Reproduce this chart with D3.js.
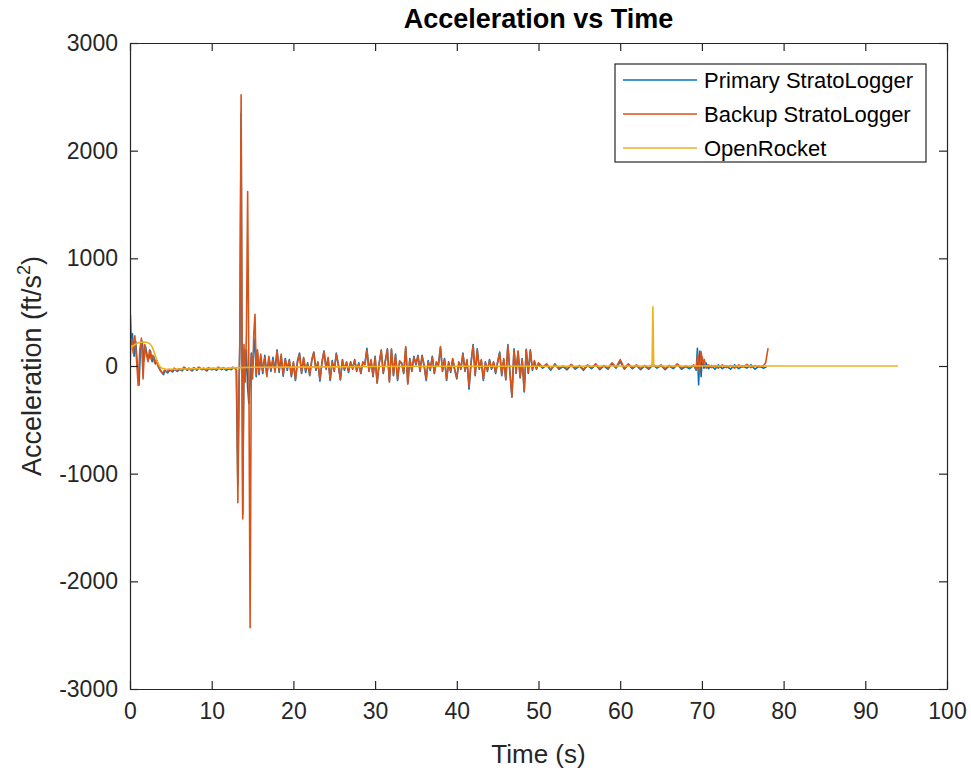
<!DOCTYPE html>
<html>
<head>
<meta charset="utf-8">
<script src="https://cdn.jsdelivr.net/npm/d3@7"></script>
<style>
  html, body { margin: 0; padding: 0; background: #fff; }
  svg { display: block; font-family: "Liberation Sans", Arial, Helvetica, sans-serif; }
</style>
</head>
<body>
<svg id="chart" width="971" height="770"></svg>
<script>
// Flight acceleration traces: [time (s), acceleration (ft/s^2)]
const primaryStratoLogger = [
  [0,300],[0.05,470],[0.15,200],[0.3,300],[0.5,90],[0.7,230],[0.9,10],[1.1,-175],[1.3,180],[1.5,230],[1.7,50],
  [1.9,180],[2.1,100],[2.3,70],[2.5,140],[2.7,40],[2.9,90],[3.1,20],[3.3,50],[3.5,-10],[3.7,-40],
  [3.9,-60],[4.1,-80],[4.3,-40],[4.6,-65],[4.9,-35],[5.2,-55],[5.5,-25],[5.8,-50],[6.1,-30],[6.4,-45],
  [6.7,-15],[7.0,-40],[7.3,-25],[7.6,-45],[7.9,-20],[8.2,-40],[8.5,-15],[8.8,-35],[9.1,-25],[9.4,-45],
  [9.7,-20],[10.0,-35],[10.3,-25],[10.6,-40],[10.9,-15],[11.2,-35],[11.5,-20],[11.8,-40],[12.1,-25],[12.4,-35],
  [12.7,-15],[13.0,-30],[13.2,-1100],[13.35,-150],[13.45,200],[13.6,2350],[13.7,300],[13.8,-1380],[13.95,150],[14.1,-100],
  [14.25,150],[14.4,-200],[14.55,-350],[14.7,-150],[14.85,120],[15.0,-60],[15.15,150],[15.3,250],[15.45,-100],[15.6,130],
  [15.8,-80],[16.0,90],[16.25,-70],[16.5,100],[16.75,-80],[17.0,70],[17.25,-50],[17.5,80],[17.75,-40],[18.0,150],
  [18.25,-60],[18.5,90],[18.75,-95],[19.0,70],[19.25,-40],[19.5,60],[19.75,-100],[20.0,30],[20.25,-135],[20.5,50],
  [20.75,120],[21.0,-70],[21.25,70],[21.5,-60],[21.75,30],[22.0,-90],[22.25,50],[22.5,130],[22.75,-40],[23.0,30],
  [23.25,-140],[23.5,40],[23.75,140],[24.0,-30],[24.25,70],[24.5,-135],[24.75,50],[25.0,-50],[25.25,120],[25.5,10],
  [25.75,-130],[26.0,60],[26.25,-40],[26.5,30],[26.75,-60],[27.0,40],[27.25,-30],[27.5,60],[27.75,-50],[28.0,30],
  [28.25,-70],[28.5,30],[28.75,20],[29.0,165],[29.25,-50],[29.5,50],[29.75,-100],[30.0,90],[30.25,-160],[30.5,30],
  [30.75,140],[31.0,-70],[31.25,50],[31.5,160],[31.75,-140],[32.0,150],[32.25,-90],[32.5,110],[32.75,-135],[33.0,40],
  [33.25,30],[33.5,-70],[33.75,170],[34.0,-160],[34.25,70],[34.5,-50],[34.75,90],[35.0,10],[35.25,100],[35.5,-50],
  [35.75,100],[36.0,0],[36.25,-135],[36.5,50],[36.75,-40],[37.0,90],[37.25,-70],[37.5,30],[37.75,10],[38.0,170],
  [38.25,-50],[38.5,70],[38.75,-135],[39.0,40],[39.25,-60],[39.5,60],[39.75,-40],[40.0,-120],[40.25,30],[40.5,-30],
  [40.75,120],[41.0,-50],[41.25,50],[41.5,-215],[41.75,40],[42.0,200],[42.25,-90],[42.5,160],[42.75,-30],[43.0,50],
  [43.25,-135],[43.5,40],[43.75,-50],[44.0,60],[44.25,-30],[44.5,30],[44.75,-70],[45.0,40],[45.25,130],[45.5,-90],
  [45.75,60],[46.0,-130],[46.25,200],[46.5,-60],[46.75,-290],[47.0,160],[47.25,-70],[47.5,130],[47.75,-110],[48.0,70],
  [48.25,-240],[48.5,155],[48.75,-70],[49.0,150],[49.25,-40],[49.5,40],[49.75,-30],[50.0,20],[50.5,-20],[51,10],
  [51.5,-40],[52,20],[52.5,-30],[53,-5],[53.5,-35],[54,10],[54.5,-30],[55,0],[55.5,-40],[56,5],
  [56.5,-25],[57,15],[57.5,-35],[58,0],[58.5,-30],[59,20],[59.5,-20],[60,40],[60.5,-30],[61,15],
  [61.5,-25],[62,5],[62.5,-35],[63,0],[63.5,-30],[64,10],[64.5,-20],[65,5],[65.5,-35],[66,0],
  [66.5,-25],[67,15],[67.5,-30],[68,-5],[68.5,-25],[69,5],[69.3,-40],[69.45,165],[69.6,-175],[69.75,140],
  [69.9,-100],[70.05,80],[70.25,-20],[70.5,30],[70.8,-25],[71.2,5],[71.6,-30],[72,10],[72.5,-25],[73,0],
  [73.5,-30],[74,10],[74.5,-25],[75,0],[75.5,-20],[76,10],[76.5,-30],[77,0],[77.5,-20],[77.9,-10]
];

const backupStratoLogger = [
  [0,180],[0.2,250],[0.4,120],[0.6,280],[0.8,60],[1.0,-180],[1.2,150],[1.4,260],[1.6,-120],[1.8,200],
  [2.0,110],[2.2,40],[2.4,150],[2.6,60],[2.8,100],[3.0,30],[3.2,60],[3.4,0],[3.6,-20],[3.8,-50],
  [4.0,-70],[4.2,-40],[4.5,-55],[4.8,-30],[5.1,-50],[5.4,-20],[5.7,-45],[6.0,-25],[6.3,-40],[6.6,-10],
  [6.9,-35],[7.2,-20],[7.5,-40],[7.8,-15],[8.1,-35],[8.4,-10],[8.7,-30],[9.0,-20],[9.3,-40],[9.6,-15],
  [9.9,-30],[10.2,-20],[10.5,-35],[10.8,-10],[11.1,-30],[11.4,-15],[11.7,-35],[12.0,-20],[12.3,-30],[12.6,-10],
  [12.9,-25],[13.05,-40],[13.2,-1270],[13.35,-200],[13.45,300],[13.6,2520],[13.7,400],[13.8,-1420],[13.95,200],[14.1,-150],
  [14.25,300],[14.4,1620],[14.55,-50],[14.7,-2430],[14.85,100],[15.0,-120],[15.15,300],[15.3,480],[15.45,-80],[15.6,150],
  [15.8,-60],[16.0,110],[16.25,-50],[16.5,80],[16.75,-100],[17.0,90],[17.25,-30],[17.5,60],[17.75,-60],[18.0,140],
  [18.25,-40],[18.5,110],[18.75,-80],[19.0,60],[19.25,-20],[19.5,50],[19.75,-90],[20.0,40],[20.25,-125],[20.5,30],
  [20.75,110],[21.0,-60],[21.25,80],[21.5,-40],[21.75,20],[22.0,-80],[22.25,60],[22.5,125],[22.75,-30],[23.0,40],
  [23.25,-125],[23.5,30],[23.75,135],[24.0,-20],[24.25,80],[24.5,-125],[24.75,40],[25.0,-40],[25.25,110],[25.5,20],
  [25.75,-125],[26.0,50],[26.25,-30],[26.5,40],[26.75,-50],[27.0,30],[27.25,-20],[27.5,50],[27.75,-40],[28.0,20],
  [28.25,-60],[28.5,40],[28.75,10],[29.0,150],[29.25,-40],[29.5,60],[29.75,-90],[30.0,80],[30.25,-155],[30.5,20],
  [30.75,150],[31.0,-60],[31.25,40],[31.5,150],[31.75,-150],[32.0,160],[32.25,-80],[32.5,100],[32.75,-125],[33.0,50],
  [33.25,20],[33.5,-60],[33.75,180],[34.0,-170],[34.25,60],[34.5,-40],[34.75,80],[35.0,20],[35.25,90],[35.5,-40],
  [35.75,90],[36.0,10],[36.25,-125],[36.5,40],[36.75,-30],[37.0,80],[37.25,-60],[37.5,40],[37.75,0],[38.0,180],
  [38.25,-40],[38.5,60],[38.75,-125],[39.0,30],[39.25,-50],[39.5,70],[39.75,-30],[40.0,-110],[40.25,40],[40.5,-20],
  [40.75,110],[41.0,-40],[41.25,60],[41.5,-190],[41.75,30],[42.0,190],[42.25,-80],[42.5,150],[42.75,-20],[43.0,60],
  [43.25,-125],[43.5,30],[43.75,-40],[44.0,50],[44.25,-20],[44.5,40],[44.75,-60],[45.0,30],[45.25,120],[45.5,-80],
  [45.75,70],[46.0,-120],[46.25,190],[46.5,-50],[46.75,-280],[47.0,150],[47.25,-60],[47.5,140],[47.75,-100],[48.0,60],
  [48.25,-230],[48.5,150],[48.75,-60],[49.0,140],[49.25,-30],[49.5,50],[49.75,-20],[50.0,30],[50.5,-10],[51,20],
  [51.5,-30],[52,10],[52.5,-20],[53,0],[53.5,-25],[54,15],[54.5,-20],[55,5],[55.5,-30],[56,10],
  [56.5,-15],[57,20],[57.5,-25],[58,5],[58.5,-20],[59,30],[59.5,-10],[60,60],[60.5,-20],[61,20],
  [61.5,-15],[62,10],[62.5,-25],[63,5],[63.5,-20],[64,15],[64.5,-10],[65,10],[65.5,-25],[66,5],
  [66.5,-15],[67,20],[67.5,-20],[68,0],[68.5,-15],[69,10],[69.3,-30],[69.5,110],[69.7,-60],[69.9,133],
  [70.1,20],[70.3,60],[70.5,-20],[70.8,10],[71.2,-15],[71.6,5],[72,-20],[72.5,10],[73,-15],[73.5,5],
  [74,-20],[74.5,10],[75,-10],[75.5,15],[76,-15],[76.5,5],[77,-10],[77.5,0],[77.8,30],[78.1,165]
];

const openRocket = [
  [0,0],[0.1,150],[0.3,185],[0.6,200],[1.0,215],[1.5,222],[2.0,220],[2.4,210],[2.7,180],[3.0,120],
  [3.3,50],[3.6,0],[3.9,-20],[4.3,-28],[5,-30],[6,-28],[8,-25],[10,-22],[12,-20],[13.5,-15],
  [15,-12],[20,-10],[25,-8],[30,-5],[40,-3],[50,-2],[60,0],[63.9,0],[64.0,551],[64.1,0],
  [70,0],[80,0],[94,0]
];

const seriesNames = ["Primary StratoLogger", "Backup StratoLogger", "OpenRocket"];
const seriesColors = ["#0072BD", "#D95319", "#EDB120"];
const xTicks = [0, 10, 20, 30, 40, 50, 60, 70, 80, 90, 100];
const yTicks = [-3000, -2000, -1000, 0, 1000, 2000, 3000];

const svg = d3.select("#chart");
const plot = { left: 130, top: 43, right: 947, bottom: 689 };
const ink = "#262626";

const x = d3.scaleLinear().domain([0, 100]).range([plot.left, plot.right]);
const y = d3.scaleLinear().domain([-3000, 3000]).range([plot.bottom, plot.top]);

svg.append("rect")
  .attr("x", plot.left).attr("y", plot.top)
  .attr("width", plot.right - plot.left).attr("height", plot.bottom - plot.top)
  .attr("fill", "#fff");

// data lines
const line = d3.line().x(d => x(d[0])).y(d => y(d[1]));
svg.append("clipPath").attr("id", "plotClip").append("rect")
  .attr("x", plot.left).attr("y", plot.top)
  .attr("width", plot.right - plot.left).attr("height", plot.bottom - plot.top);

const lines = svg.append("g").attr("clip-path", "url(#plotClip)");
[primaryStratoLogger, backupStratoLogger, openRocket].forEach((data, i) => {
  lines.append("path")
    .datum(data)
    .attr("d", line)
    .attr("fill", "none")
    .attr("stroke", seriesColors[i])
    .attr("stroke-width", 1.6)
    .attr("stroke-linejoin", "round");
});

// axes: ticks point inward, box on all four sides
const tickLen = 8;
const fontTick = 23;
const plain = d3.format("d");
const tickText = v => plain(v).replace("\u2212", "-");

const xAxisBottom = d3.axisBottom(x).tickValues(xTicks).tickFormat(tickText)
  .tickSizeInner(-tickLen).tickSizeOuter(0).tickPadding(14);
const gxb = svg.append("g").attr("transform", `translate(0,${plot.bottom})`).call(xAxisBottom);
const xAxisTop = d3.axisTop(x).tickValues(xTicks).tickSizeInner(-tickLen).tickSizeOuter(0).tickFormat("");
const gxt = svg.append("g").attr("transform", `translate(0,${plot.top})`).call(xAxisTop);

const yAxisLeft = d3.axisLeft(y).tickValues(yTicks).tickFormat(tickText)
  .tickSizeInner(-tickLen).tickSizeOuter(0).tickPadding(12);
const gyl = svg.append("g").attr("transform", `translate(${plot.left},0)`).call(yAxisLeft);
const yAxisRight = d3.axisRight(y).tickValues(yTicks).tickSizeInner(-tickLen).tickSizeOuter(0).tickFormat("");
const gyr = svg.append("g").attr("transform", `translate(${plot.right},0)`).call(yAxisRight);

[gxb, gxt, gyl, gyr].forEach(g => {
  g.select(".domain").attr("stroke", ink).attr("stroke-width", 1.2);
  g.selectAll(".tick line").attr("stroke", ink).attr("stroke-width", 1.2);
  g.selectAll(".tick text").attr("fill", ink).attr("font-size", fontTick)
    .attr("font-family", "'Liberation Sans', Arial, sans-serif");
});
gxb.selectAll(".tick text").attr("dy", "0.71em");

// title and axis labels
svg.append("text")
  .attr("x", (plot.left + plot.right) / 2).attr("y", 28)
  .attr("text-anchor", "middle")
  .attr("font-size", 27).attr("font-weight", "bold").attr("fill", "#000")
  .text("Acceleration vs Time");

svg.append("text")
  .attr("x", (plot.left + plot.right) / 2).attr("y", 763)
  .attr("text-anchor", "middle")
  .attr("font-size", 26).attr("fill", ink)
  .text("Time (s)");

const yLabel = svg.append("text")
  .attr("transform", `translate(41,${(plot.top + plot.bottom) / 2}) rotate(-90)`)
  .attr("text-anchor", "middle")
  .attr("font-size", 27).attr("fill", ink);
yLabel.append("tspan").text("Acceleration (ft/s");
yLabel.append("tspan").attr("font-size", 18).attr("dy", -11).text("2");
yLabel.append("tspan").attr("dy", 11).text(")");

// legend
const legend = svg.append("g");
legend.append("rect")
  .attr("x", 615).attr("y", 64).attr("width", 311).attr("height", 98)
  .attr("fill", "#fff").attr("stroke", ink).attr("stroke-width", 1.2);
seriesNames.forEach((name, i) => {
  const cy = 80 + i * 34;
  legend.append("line")
    .attr("x1", 623).attr("x2", 697).attr("y1", cy).attr("y2", cy)
    .attr("stroke", seriesColors[i]).attr("stroke-width", 1.4);
  legend.append("text")
    .attr("x", 704).attr("y", cy).attr("dy", "0.35em")
    .attr("font-size", 22).attr("fill", "#000")
    .text(name);
});
</script>
</body>
</html>
